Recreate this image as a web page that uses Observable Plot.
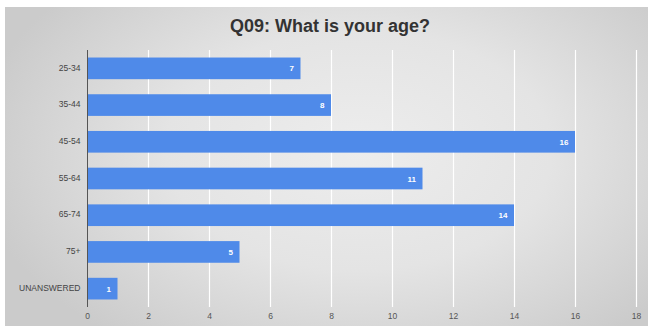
<!DOCTYPE html>
<html>
<head>
<meta charset="utf-8">
<script src="https://cdn.jsdelivr.net/npm/d3@7"></script>
<script src="https://cdn.jsdelivr.net/npm/@observablehq/plot@0.6"></script>
<style>
  html, body { margin: 0; padding: 0; background: #fff; }
  #wrap { position: relative; width: 648px; height: 326px; overflow: hidden; background: #fff; }
  #panel { position: absolute; left: 5px; top: 7px; width: 643px; height: 319px;
    background: radial-gradient(ellipse 60% 75% at 55% 45%, #ededed 0%, #e4e4e4 50%, #cbcbcb 100%); }
  #title { position: absolute; left: 0; top: 16px; width: 660px; text-align: center;
    font-family: "Liberation Sans", Arial, sans-serif; font-weight: bold; font-size: 18px; color: #333; }
  #chart { position: absolute; left: 0; top: 48px; }
  #chart svg { display: block; }
</style>
</head>
<body>
<div id="wrap">
  <div id="panel"></div>
  <div id="title">Q09: What is your age?</div>
  <div id="chart"></div>
</div>
<script>
const categories = ["25-34", "35-44", "45-54", "55-64", "65-74", "75+", "UNANSWERED"];
const counts = [7, 8, 16, 11, 14, 5, 1];
const xTicks = [0, 2, 4, 6, 8, 10, 12, 14, 16, 18];

const data = categories.map((c, i) => ({category: c, count: counts[i]}));

const chart = Plot.plot({
  width: 648,
  height: 278,
  marginLeft: 87,
  marginRight: 12,
  marginTop: 2,
  marginBottom: 19,
  style: {background: "transparent", fontFamily: "'Liberation Sans', Arial, sans-serif", fontSize: "8px"},
  x: {domain: [0, 18], ticks: xTicks, label: null},
  y: {domain: categories, paddingInner: 0.41, paddingOuter: 0.205, round: false, label: null},
  marks: [
    Plot.gridX(xTicks.filter(d => d > 0), {stroke: "#ffffff", strokeOpacity: 1, strokeWidth: 1.2}),
    Plot.barX(data, {x: "count", y: "category", fill: "#4f8ae9"}),
    Plot.ruleX([0], {stroke: "#555", strokeWidth: 1}),
    Plot.text(data, {x: "count", y: "category", text: d => String(d.count), textAnchor: "end", dx: -7,
      fill: "#fff", fontWeight: "bold", fontSize: 8}),
    Plot.axisX({ticks: xTicks, tickSize: 0, tickPadding: 5, fill: "#555", fontSize: 8.5, label: null}),
    Plot.axisY({tickSize: 0, tickPadding: 7, dy: -1, fill: "#444", fontSize: 8.5, label: null})
  ]
});
document.getElementById("chart").appendChild(chart);
</script>
</body>
</html>
